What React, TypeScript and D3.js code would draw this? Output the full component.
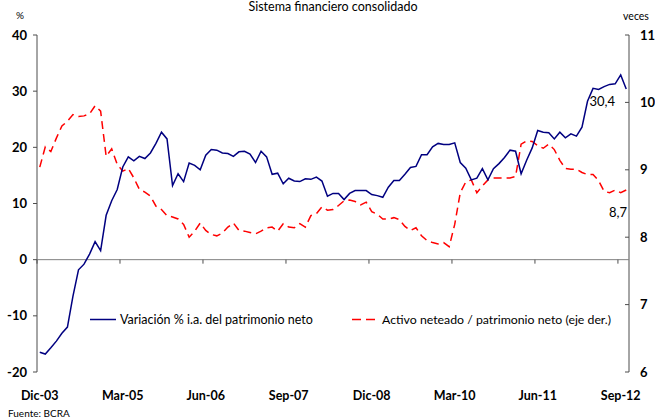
import React from "react";
import * as d3 from "d3";

const title = "Sistema financiero consolidado";
const tickLabels = ["Dic-03", "Mar-05", "Jun-06", "Sep-07", "Dic-08", "Mar-10", "Jun-11", "Sep-12"];
const tickEvery = 15;
const leftTicks = [-20, -10, 0, 10, 20, 30, 40];
const rightTicks = [6, 7, 8, 9, 10, 11];

// Variación % i.a. del patrimonio neto (Dic-03 .. Oct-12, monthly)
const patrimonio = [
  -16.5, -16.8, -15.7, -14.5, -13.1, -12.0, -6.5, -1.8, -0.8, 1.0,
  3.2, 1.6, 7.9, 10.5, 12.5, 16.5, 18.3, 17.6, 18.4, 18.0,
  19.0, 20.7, 22.7, 21.5, 13.2, 15.3, 13.9, 17.2, 16.8, 16.0,
  18.6, 19.6, 19.5, 19.0, 18.9, 18.4, 19.2, 19.3, 18.8, 17.3,
  19.3, 18.3, 15.2, 15.4, 13.5, 14.5, 14.0, 13.9, 14.4, 14.3,
  14.7, 14.0, 11.3, 11.8, 11.8, 10.7, 11.8, 12.3, 12.3, 12.3,
  11.6, 11.4, 11.1, 12.9, 14.1, 14.1, 15.2, 16.4, 16.6, 18.7,
  18.7, 20.1, 20.7, 20.5, 20.5, 20.8, 17.3, 16.3, 14.2, 14.5,
  16.2, 14.2, 16.2, 17.1, 18.2, 19.5, 19.3, 15.3, 17.7, 19.9,
  23.0, 22.7, 22.6, 21.5, 22.7, 21.7, 22.4, 22.0, 23.6, 28.2,
  30.5, 30.3, 30.8, 31.2, 31.3, 32.9, 30.4,
];

// Activo neteado / patrimonio neto (veces, eje der.)
const activoPatrimonio = [
  9.04, 9.34, 9.27, 9.47, 9.65, 9.72, 9.82, 9.79, 9.80, 9.83,
  9.95, 9.87, 9.20, 9.31, 9.08, 8.98, 9.02, 8.88, 8.71, 8.67,
  8.61, 8.46, 8.41, 8.32, 8.30, 8.27, 8.19, 8.00, 8.09, 8.21,
  8.10, 8.04, 8.02, 8.06, 8.15, 8.21, 8.10, 8.09, 8.07, 8.05,
  8.09, 8.14, 8.15, 8.09, 8.20, 8.15, 8.14, 8.20, 8.15, 8.32,
  8.35, 8.45, 8.40, 8.41, 8.47, 8.54, 8.55, 8.53, 8.48, 8.52,
  8.38, 8.34, 8.27, 8.27, 8.29, 8.26, 8.16, 8.10, 8.14, 8.02,
  7.95, 7.92, 7.90, 7.92, 7.86, 8.19, 8.66, 8.82, 8.85, 8.66,
  8.76, 8.85, 8.88, 8.88, 8.88, 8.88, 8.90, 9.38, 9.43, 9.42,
  9.36, 9.32, 9.38, 9.30, 9.14, 9.02, 9.01, 9.01, 8.96, 8.93,
  8.93, 8.84, 8.68, 8.66, 8.70, 8.66, 8.70,
];

const seriesNames = ["Variación % i.a. del patrimonio neto", "Activo neteado / patrimonio neto (eje der.)"];
const lastLabels = ["30,4", "8,7"];

const FONT = "Lato, 'Open Sans', sans-serif";

export default function App() {
  const W = 655, H = 419;
  const left = 37, right = 629, top = 35, bottom = 372;
  const idx = d3.range(patrimonio.length);
  const x = d3.scaleBand<number>().domain(idx).range([left, right]).padding(0);
  const cx = (i: number) => (x(i) as number) + x.bandwidth() / 2;
  const yL = d3.scaleLinear().domain([-20, 40]).range([bottom, top]);
  const yR = d3.scaleLinear().domain([6, 11]).range([bottom, top]);

  const lineL = d3.line<number>().x((_, i) => cx(i)).y((d) => yL(d));
  const lineR = d3.line<number>().x((_, i) => cx(i)).y((d) => yR(d));

  const y0 = yL(0);
  const catTicks = d3.range(0, patrimonio.length, tickEvery);
  const axisColor = "#4d4d4d";

  return (
    <svg width={W} height={H} style={{ position: "absolute", left: 0, top: 0 }}>
      <rect width={W} height={H} fill="#fff" />
      <text x={333} y={11} textAnchor="middle" fontFamily={FONT} fontSize={12.5} fill="#000">{title}</text>
      <text x={20} y={19} textAnchor="middle" fontFamily={FONT} fontSize={10} fill="#000">%</text>
      <text x={636} y={20} textAnchor="middle" fontFamily={FONT} fontSize={10.5} fill="#000">veces</text>

      {/* left axis */}
      <line x1={left} x2={left} y1={top} y2={bottom} stroke={axisColor} strokeWidth={1} />
      {leftTicks.map((t) => (
        <g key={"l" + t}>
          <line x1={left - 4} x2={left} y1={yL(t)} y2={yL(t)} stroke={axisColor} />
          <text x={27} y={yL(t) + 4.5} textAnchor="end" fontFamily={FONT} fontWeight="bold" fontSize={13} fill="#000">{t}</text>
        </g>
      ))}

      {/* right axis */}
      <line x1={right} x2={right} y1={top} y2={bottom} stroke={axisColor} strokeWidth={1} />
      {rightTicks.map((t) => (
        <g key={"r" + t}>
          <line x1={right - 4} x2={right} y1={yR(t)} y2={yR(t)} stroke={axisColor} />
          <text x={640} y={yR(t) + 4.5} textAnchor="start" fontFamily={FONT} fontWeight="bold" fontSize={13} fill="#000">{t}</text>
        </g>
      ))}

      {/* zero / category axis */}
      <line x1={left} x2={right} y1={y0} y2={y0} stroke="#808080" strokeWidth={1} />
      {catTicks.map((i) => (
        <line key={"c" + i} x1={x(i) as number} x2={x(i) as number} y1={y0} y2={y0 + 4} stroke={axisColor} />
      ))}
      {catTicks.map((i, j) => (
        <text key={"cl" + i} x={cx(i)} y={400} textAnchor="middle" fontFamily={FONT} fontWeight="bold" fontSize={12.5} fill="#000">{tickLabels[j]}</text>
      ))}

      {/* series */}
      <path d={lineR(activoPatrimonio) as string} fill="none" stroke="#ff0000" strokeWidth={1.5} strokeDasharray="8,5" />
      <path d={lineL(patrimonio) as string} fill="none" stroke="#000080" strokeWidth={1.5} />

      {/* end labels */}
      <text x={615} y={106} textAnchor="end" fontFamily={FONT} fontSize={13} fill="#000">{lastLabels[0]}</text>
      <text x={627} y={217} textAnchor="end" fontFamily={FONT} fontSize={13} fill="#000">{lastLabels[1]}</text>

      {/* legend */}
      <line x1={90} x2={116} y1={319.5} y2={319.5} stroke="#000080" strokeWidth={1.5} />
      <text x={120} y={324} fontFamily={FONT} fontSize={12.5} fill="#000">{seriesNames[0]}</text>
      <line x1={352} x2={378} y1={319.5} y2={319.5} stroke="#ff0000" strokeWidth={1.5} strokeDasharray="9,5" />
      <text x={382} y={324} fontFamily={FONT} fontSize={12.3} fill="#000">{seriesNames[1]}</text>

      <text x={8} y={417} fontFamily={FONT} fontSize={10} fill="#000">Fuente: BCRA</text>
    </svg>
  );
}
